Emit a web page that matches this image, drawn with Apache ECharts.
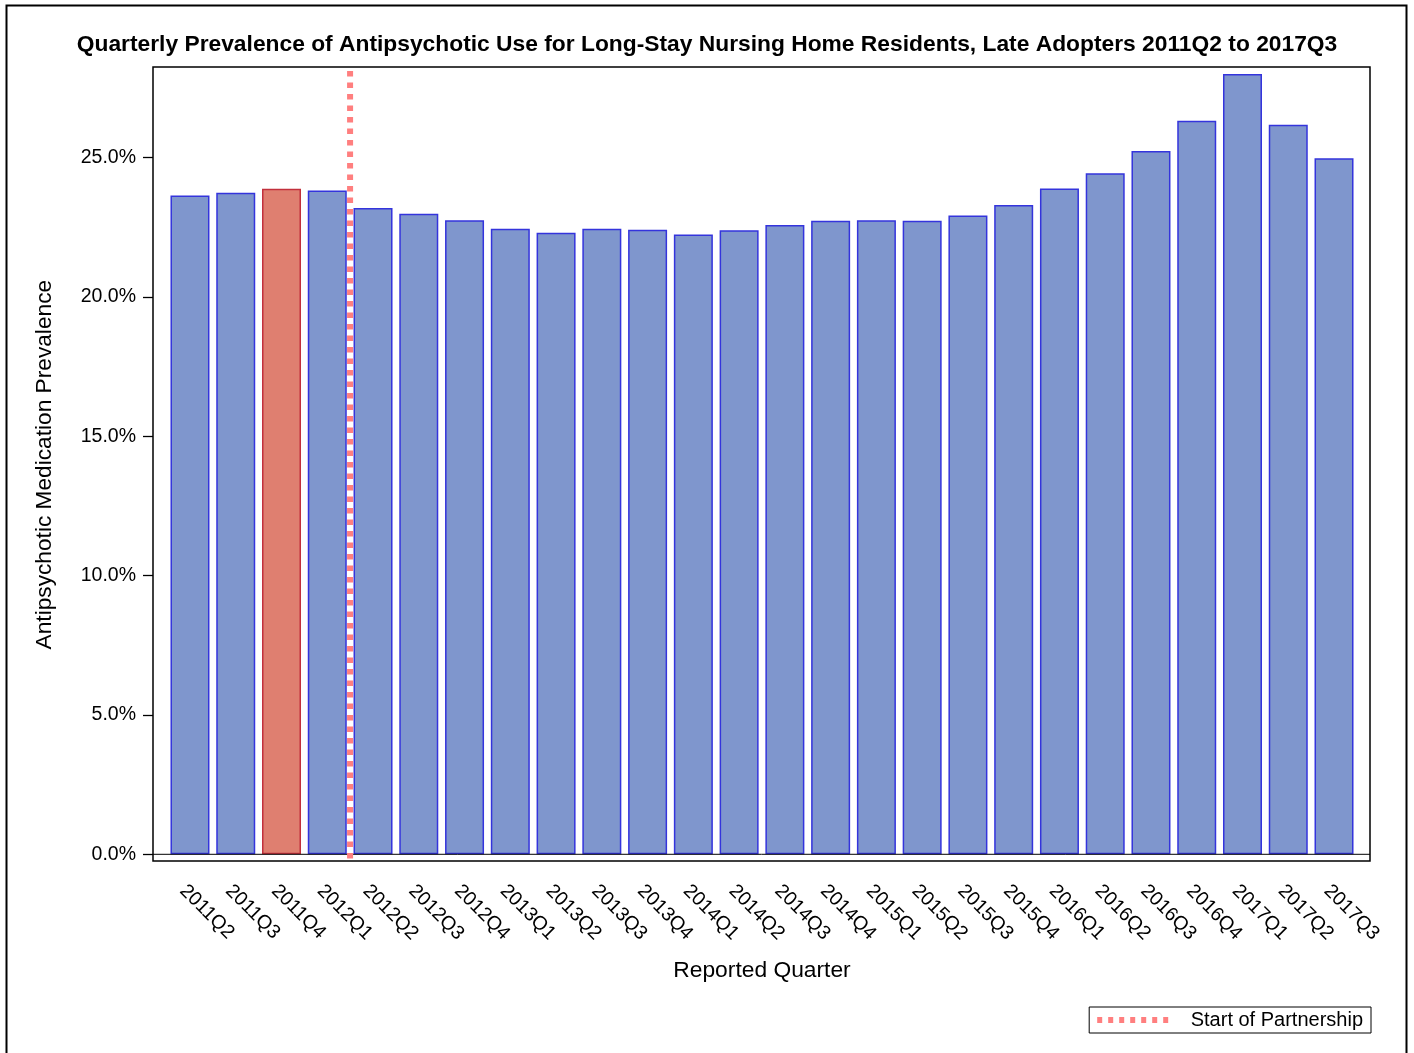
<!DOCTYPE html>
<html>
<head>
<meta charset="utf-8">
<title>Quarterly Prevalence of Antipsychotic Use</title>
<script src="https://cdn.jsdelivr.net/npm/echarts@6/dist/echarts.min.js"></script>
<style>
  html, body { margin: 0; padding: 0; background: #fff; }
  #chart { width: 1414px; height: 1053px; }
</style>
</head>
<body>
<div id="chart"></div>
<script>
// quarters on the x axis
const quarters = [
  '2011Q2', '2011Q3', '2011Q4',
  '2012Q1', '2012Q2', '2012Q3', '2012Q4',
  '2013Q1', '2013Q2', '2013Q3', '2013Q4',
  '2014Q1', '2014Q2', '2014Q3', '2014Q4',
  '2015Q1', '2015Q2', '2015Q3', '2015Q4',
  '2016Q1', '2016Q2', '2016Q3', '2016Q4',
  '2017Q1', '2017Q2', '2017Q3'
]
// prevalence in percent
const prevalence = [
  23.64, 23.74, 23.88,
  23.82, 23.19, 22.98, 22.75,
  22.45, 22.30, 22.45, 22.41,
  22.24, 22.39, 22.58, 22.73,
  22.75, 22.73, 22.92, 23.30,
  23.89, 24.44, 25.24, 26.32,
  28.00, 26.18, 24.98
]
const highlightQuarter = '2011Q4'
const yTicks = [0, 5, 10, 15, 20, 25]
// partnership starts between 2012Q1 and 2012Q2 (category index 3.5)
const partnershipStart = 3.5

// axis ranges
const yMax = 28.25
const yMin = -0.24
const frameXMin = -0.809
const frameXMax = 25.8

const font = '"Liberation Sans", Arial, sans-serif'

// legend swatch: seven small squares, like the dotted reference line
const dotIcon = 'path://' + [0, 1, 2, 3, 4, 5, 6].map(k => 'M' + (k * 11) + ' 0h5v6h-5z').join('')

const barData = quarters.map((q, i) => {
  const item = { value: prevalence[i] }
  if (q === highlightQuarter) {
    item.itemStyle = { color: '#df7f70', borderColor: '#c2303c' }
  }
  return item
})

const chart = echarts.init(document.getElementById('chart'))
chart.setOption({
  animation: false,
  textStyle: { fontFamily: font, color: '#000' },
  title: {
    text: 'Quarterly Prevalence of Antipsychotic Use for Long-Stay Nursing Home Residents, Late Adopters 2011Q2 to 2017Q3',
    left: 'center',
    top: 28,
    textStyle: { fontFamily: font, fontSize: 22.8, fontWeight: 'bold', color: '#000' }
  },
  graphic: [
    {
      type: 'rect',
      shape: { x: 6.5, y: 5.5, width: 1400, height: 1070 },
      style: { fill: 'none', stroke: '#000', lineWidth: 2 },
      silent: true
    }
  ],
  legend: {
    data: [{ name: 'Start of Partnership', icon: dotIcon }],
    right: 43,
    top: 1007,
    borderColor: '#000',
    borderWidth: 1,
    padding: [3, 8, 3, 8],
    itemWidth: 72,
    itemHeight: 6,
    itemStyle: { color: '#ff7f7f' },
    textStyle: { fontFamily: font, fontSize: 20, color: '#000', padding: [0, 0, 0, 17] }
  },
  grid: [
    // outer frame
    { left: 153, top: 67, width: 1217, height: 794, show: true, borderColor: '#000', borderWidth: 1.5, backgroundColor: 'transparent' },
    // bars
    { left: 167.1, top: 67, width: 1189.8, height: 787.3 }
  ],
  xAxis: [
    { type: 'value', gridIndex: 0, min: frameXMin, max: frameXMax, show: false },
    {
      type: 'category',
      gridIndex: 1,
      data: quarters,
      offset: 6.5,
      axisLine: { show: false },
      axisTick: { alignWithLabel: true, length: 10, lineStyle: { color: '#000', width: 1.3 } },
      axisLabel: {
        interval: 0,
        rotate: -45,
        margin: 20,
        verticalAlign: 'top',
        fontSize: 19.5,
        color: '#000',
        fontFamily: font
      },
      name: 'Reported Quarter',
      nameLocation: 'middle',
      nameGap: 98,
      nameTextStyle: { fontSize: 22.8, color: '#000', fontFamily: font }
    }
  ],
  yAxis: [
    { type: 'value', gridIndex: 0, min: yMin, max: yMax, show: false },
    {
      type: 'value',
      gridIndex: 1,
      min: 0,
      max: yMax,
      offset: 14.1,
      splitLine: { show: false },
      axisLine: { show: false },
      axisTick: { show: true, length: 10, customValues: yTicks, lineStyle: { color: '#000', width: 1.3 } },
      axisLabel: {
        customValues: yTicks,
        margin: 17,
        fontSize: 19.5,
        color: '#000',
        fontFamily: font,
        formatter: v => v.toFixed(1) + '%'
      },
      name: 'Antipsychotic Medication Prevalence',
      nameLocation: 'middle',
      nameGap: 97,
      nameTextStyle: { fontSize: 22.7, color: '#000', fontFamily: font, padding: [0, 8, 0, 0] }
    }
  ],
  series: [
    {
      type: 'bar',
      xAxisIndex: 1,
      yAxisIndex: 1,
      barWidth: 39,
      data: barData,
      itemStyle: { color: '#7f96cd', borderColor: '#3434dc', borderWidth: 1.5 }
    },
    {
      // reference line at 0 across the frame
      type: 'line',
      xAxisIndex: 0,
      yAxisIndex: 0,
      symbol: 'none',
      silent: true,
      data: [[frameXMin, 0], [frameXMax, 0]],
      lineStyle: { color: '#000', width: 1 }
    },
    {
      name: 'Start of Partnership',
      type: 'line',
      xAxisIndex: 0,
      yAxisIndex: 0,
      symbol: 'none',
      z: 5,
      data: [[partnershipStart, 28.11], [partnershipStart, yMin]],
      itemStyle: { color: '#ff7f7f' },
      lineStyle: { color: '#ff7f7f', width: 6, type: [5.5, 6], cap: 'butt' }
    }
  ]
})
</script>
</body>
</html>
